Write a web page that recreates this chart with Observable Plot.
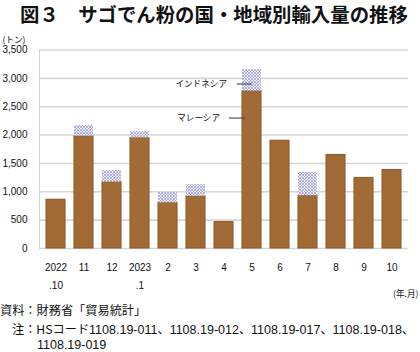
<!DOCTYPE html>
<html><head><meta charset="utf-8">
<script src="https://cdn.jsdelivr.net/npm/d3@7"></script>
<script src="https://cdn.jsdelivr.net/npm/@observablehq/plot@0.6"></script>
<style>
html,body{margin:0;padding:0;background:#fff;}
#wrap{position:relative;width:420px;height:352px;overflow:hidden;font-family:"Noto Sans CJK JP","Noto Sans",sans-serif;color:#111;}
#title{position:absolute;left:20px;top:0;height:28px;line-height:28px;font-size:19.4px;font-weight:bold;white-space:pre;}
#chart{position:absolute;left:0;top:28px;}
.cap{position:absolute;font-size:12.2px;white-space:pre;line-height:16px;}
.num{font-family:"Liberation Sans",sans-serif;font-size:12.5px;}
</style></head>
<body><div id="wrap">
<div id="title">図３　サゴでん粉の国・地域別輸入量の推移</div>
<div id="chart"></div>
<div class="cap" style="left:0;top:302px">資料：財務省「貿易統計」</div>
<div class="cap" style="left:12px;top:321px">注：HSコード<span class="num">1108.19-011</span>、<span class="num">1108.19-012</span>、<span class="num">1108.19-017</span>、<span class="num">1108.19-018</span>、</div>
<div class="cap" style="left:37px;top:336px"><span class="num">1108.19-019</span></div>
</div>
<script>
const months = ["2022\n.10","11","12","2023\n.1","2","3","4","5","6","7","8","9","10"];
const malaysia = [860,1980,1170,1950,805,920,465,2775,1900,930,1650,1245,1385];
const indonesia = [0,190,205,113,188,206,0,377,0,411,0,0,0];
const yTicks = [0,500,1000,1500,2000,2500,3000,3500];
const seriesLabels = ["インドネシア","マレーシア"];
const labelMonth = "5";
const labelValues = [2900,2300];
const unitLabel = "(トン)";
const xUnitLabel = "(年.月)";

const rows = months.map((m,i)=>({month:m, mal:malaysia[i], ind:indonesia[i]}));
const ann = seriesLabels.map((s,i)=>({label:s, month:labelMonth, value:labelValues[i]}));
const lineStyle = {stroke:"#333", strokeWidth:1};
const annFont = {fontSize:8.6, fontFamily:"Noto Sans CJK JP", textAnchor:"end", fill:"#111"};

const plot = Plot.plot({
  width:420, height:272,
  marginLeft:39, marginRight:12, marginTop:21.5, marginBottom:52,
  style:{fontFamily:'"Liberation Sans","Noto Sans CJK JP",sans-serif', fontSize:"10px", color:"#111", background:"#fff"},
  x:{domain:months, paddingInner:0.33, paddingOuter:0.14, label:null},
  y:{domain:[0,3500], label:null},
  marks:[
    Plot.ruleY(yTicks, {stroke:"#d6d6d6", strokeWidth:1.6}),
    Plot.frame({anchor:"left", stroke:"#d6d6d6", strokeWidth:1}),
    Plot.barY(rows, {x:"month", y:"mal", fill:"#a26b35", stroke:"#8a5524", strokeWidth:1}),
    Plot.barY(rows.filter(d=>d.ind>0), {x:"month", y1:"mal", y2:d=>d.mal+d.ind, fill:"url(#hatch)"}),
    Plot.axisX({tickSize:0, tickPadding:10, fontSize:10, lineHeight:1.8, label:null}),
    Plot.axisY({ticks:yTicks, tickSize:0, tickPadding:12, tickFormat:d3.format(","), fontSize:10, label:null}),
    Plot.tickY([ann[0]], {x:"month", y:"value", dx:-5.3, insetRight:4, ...lineStyle}),
    Plot.tickY([ann[1]], {x:"month", y:"value", dx:-13, insetRight:3.3, ...lineStyle}),
    Plot.text([ann[0]], {x:"month", y:"value", text:"label", dx:-25, ...annFont}),
    Plot.text([ann[1]], {x:"month", y:"value", text:"label", dx:-32, ...annFont}),
    Plot.text([unitLabel], {frameAnchor:"top-left", dx:-37, dy:-13.5, textAnchor:"start", fontSize:8.6, fontFamily:"Noto Sans CJK JP"}),
    Plot.text([xUnitLabel], {frameAnchor:"bottom-right", dx:10, dy:48, textAnchor:"end", fontSize:8.6, fontFamily:"Noto Sans CJK JP"})
  ]
});
const svg = d3.select(plot);
const defs = svg.insert("defs", ":first-child");
const pat = defs.append("pattern").attr("id","hatch").attr("width",3).attr("height",3).attr("patternUnits","userSpaceOnUse");
pat.append("rect").attr("width",3).attr("height",3).attr("fill","#eeeef8");
pat.append("path").attr("d","M0,3L3,0M-1,1L1,-1M2,4L4,2M0,0L3,3M-1,2L1,4M2,-1L4,1").attr("stroke","#9a9ad4").attr("stroke-width",0.7);
document.getElementById("chart").appendChild(plot);
</script>
</body></html>
